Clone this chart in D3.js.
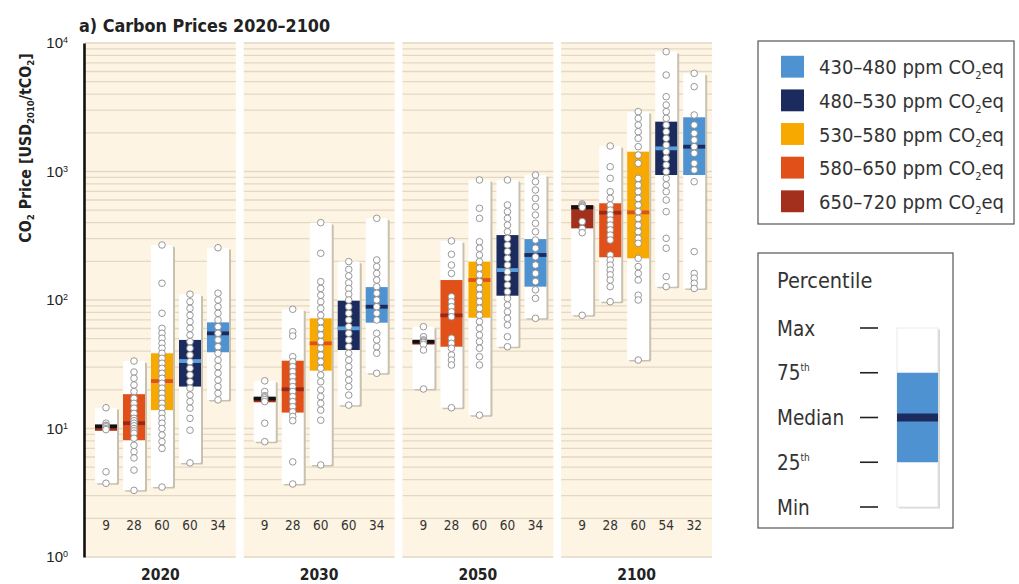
<!DOCTYPE html>
<html><head><meta charset="utf-8">
<script src="https://cdn.jsdelivr.net/npm/d3@7"></script>
<style>
body{margin:0;background:#fff;}
svg{display:block;font-family:"DejaVu Sans Condensed","Liberation Sans Narrow","Open Sans",sans-serif;}
</style></head><body>
<svg id="c" width="1019" height="584"></svg>
<script>
// ---------------- data ----------------
const years = ["2020", "2030", "2050", "2100"];
const categories = ["650–720", "580–650", "530–580", "480–530", "430–480"]; // column order in each panel
const legendOrder = ["430–480", "480–530", "530–580", "580–650", "650–720"];
const boxColors = ["#a3301c", "#e2501a", "#f7a900", "#1c2b5e", "#4e92d2"];
const medianColors = ["#111111", "#9a2a17", "#e2501a", "#5a9fe0", "#1c2b5e"];
const yTicks = [1, 10, 100, 1000, 10000];
const percentileLabels = ["Max", "75th", "Median", "25th", "Min"];

const counts2020 = [9, 28, 60, 60, 34];
const counts2030 = [9, 28, 60, 60, 34];
const counts2050 = [9, 28, 60, 60, 34];
const counts2100 = [9, 28, 60, 54, 32];

// [25th, median, 75th]
const quart2020 = [[9.6, 10.4, 10.6], [8.1, 11.0, 18.5], [13.9, 23.4, 38.5], [21.2, 33.5, 48.9], [39.2, 55, 67]];
const quart2030 = [[16.0, 17.1, 17.5], [13.3, 20.2, 33.7], [28.2, 46, 72], [40.8, 60.2, 98.8], [66.6, 88.7, 126]];
const quart2050 = [[45, 47.4, 48.5], [43.3, 76, 143], [72.8, 143, 199], [108, 171, 320], [127, 224, 298]];
const quart2100 = [[361, 526, 549], [215, 478, 566], [211, 481, 1427], [939, 1514, 2442], [939, 1560, 2642]];

// individual scenario values (circles)
const points2020 = [
  [14.5, 11, 10.6, 10.5, 10.3, 10, 9.8, 4.6, 3.75],
  [33.5, 27.5, 24.6, 21.8, 19.4, 17.2, 15.7, 14.4, 13.1, 12, 11.5, 11, 10.5, 10, 9.6, 9.2, 8.4, 7.4, 6.6, 5.9, 4.75, 3.3],
  [268, 135, 78.8, 60.2, 55.1, 50.4, 46, 42.1, 38.5, 35.2, 32.2, 29.4, 26.9, 24.6, 22.5, 20.6, 18.8, 17.2, 15.7, 14.4, 13.1, 12, 11, 10, 8.9, 7.9, 7, 3.5],
  [111, 97, 86, 76, 67.8, 60.2, 53.4, 47.4, 42.1, 37.3, 33.1, 29.4, 26.1, 23.1, 20.6, 18.2, 16.2, 14.4, 12, 9.7, 5.4],
  [255, 113, 100, 88.7, 78.8, 69.9, 62, 55.1, 48.9, 43.3, 38.5, 34.1, 30.3, 26.9, 23.8, 21.2, 18.8, 16.7]
];
const points2030 = [
  [23.5, 19.4, 18, 17.7, 17.3, 16.8, 16.2, 11, 7.9],
  [84.7, 56.7, 52.5, 36.2, 33.1, 30.3, 27.7, 25.3, 23.1, 21.2, 19.4, 17.7, 16.2, 14.8, 13.5, 12.4, 11.5, 5.5, 3.7],
  [400, 231, 139, 123, 109, 97, 86, 76, 67.8, 60.2, 53.4, 47.4, 42.1, 37.3, 33.1, 29.4, 26.1, 23.1, 20, 17.7, 15.7, 13.9, 11.6, 5.2],
  [199, 173, 154, 136, 123, 111, 100, 88.7, 78.8, 69.9, 62, 55.1, 48.9, 43.3, 38.5, 34.1, 30.3, 26.9, 23.8, 21.2, 18.2, 15.2],
  [432, 205, 182, 161, 143, 127, 113, 100, 88.7, 78.8, 69.9, 55.1, 48.9, 43.3, 38.5, 26.9]
];
const points2050 = [
  [62, 51.8, 49, 48, 47, 46.5, 45, 40.8, 20.3],
  [288, 227, 187, 161, 106, 97, 88.7, 81, 74.1, 50.4, 46, 42.1, 37.3, 34.1, 31.2, 14.5],
  [859, 517, 432, 284, 253, 224, 199, 177, 157, 139, 123, 109, 97, 86, 76, 67.8, 60.2, 53.4, 47.4, 42.1, 36.2, 31.2, 12.7],
  [859, 549, 487, 432, 383, 340, 302, 268, 238, 211, 187, 166, 148, 131, 116, 103, 91.4, 81, 72, 63.9, 51.8, 43.3],
  [939, 833, 718, 618, 532, 459, 395, 340, 293, 253, 217, 187, 161, 139, 120, 103, 72]
];
const points2100 = [
  [559, 550, 540, 530, 526, 407, 360, 334, 76],
  [1579, 1089, 885, 697, 618, 549, 501, 459, 419, 383, 351, 320, 293, 224, 205, 187, 171, 157, 143, 127, 97],
  [2922, 2594, 2300, 2040, 1811, 1560, 1343, 1158, 885, 785, 697, 618, 549, 487, 432, 383, 340, 302, 276, 211, 182, 161, 143, 109, 100, 34.1],
  [8556, 5636, 3821, 3294, 2922, 2594, 2300, 2040, 1811, 1607, 1426, 1267, 1124, 996, 885, 785, 697, 600, 487, 302, 253, 152, 127],
  [5808, 4571, 2754, 2300, 1983, 1759, 1560, 1386, 1158, 1027, 833, 238, 161, 148, 135, 123]
];

const countsByYear = [counts2020, counts2030, counts2050, counts2100];
const quartByYear = [quart2020, quart2030, quart2050, quart2100];
const pointsByYear = [points2020, points2030, points2050, points2100];

// ---------------- drawing ----------------
const svg = d3.select("#c");
const y = d3.scaleLog().domain([1, 1e4]).range([557, 43]);
const x = d3.scaleBand().domain(years).range([85, 712]).paddingInner(0.05);
const bw = x.bandwidth();
const xi = d3.scaleBand().domain(d3.range(categories.length)).range([7, 147]).paddingInner(0.214).paddingOuter(0.107);
const cw = xi.bandwidth();

// title
svg.append("text").attr("x", 79).attr("y", 32).attr("font-weight", "bold").attr("font-size", 17.8)
  .attr("fill", "#222").text("a) Carbon Prices 2020–2100");

// y label
const yl = svg.append("text").attr("transform", "translate(31,148) rotate(-90)")
  .attr("text-anchor", "middle").attr("font-weight", "bold").attr("font-size", 15.8).attr("fill", "#222");
yl.append("tspan").text("CO");
yl.append("tspan").attr("font-size", 9.5).attr("dy", 3).text("2");
yl.append("tspan").attr("dy", -3).text(" Price [USD");
yl.append("tspan").attr("font-size", 9.5).attr("dy", 3).text("2010");
yl.append("tspan").attr("dy", -3).text("/tCO");
yl.append("tspan").attr("font-size", 9.5).attr("dy", 3).text("2");
yl.append("tspan").attr("dy", -3).text("]");

// panels
const panel = svg.selectAll("g.panel").data(years).join("g").attr("class", "panel")
  .attr("transform", d => `translate(${x(d)},0)`);
panel.append("rect").attr("x", 0).attr("y", y(1e4)).attr("width", bw).attr("height", y(1) - y(1e4)).attr("fill", "#fdf4e3");
panel.each(function () {
  d3.select(this).selectAll("line.grid").data(y.ticks()).join("line").attr("class", "grid")
    .attr("x1", 0).attr("x2", bw).attr("y1", d => y(d)).attr("y2", d => y(d))
    .attr("stroke", "#e2d8c4").attr("stroke-width", 1.3);
});

years.forEach((yr, i) => {
  const g = svg.append("g").attr("transform", `translate(${x(yr)},0)`);
  categories.forEach((cat, j) => {
    const pts = pointsByYear[i][j];
    const [q1, med, q3] = quartByYear[i][j];
    const x0 = xi(j);
    const cx = x0 + cw / 2;
    const top = y(d3.max(pts)), bot = y(d3.min(pts));
    g.append("rect").attr("x", x0 + 2).attr("y", top + 1.5).attr("width", cw).attr("height", bot - top)
      .attr("fill", "#c9c1b0").attr("rx", 1.5);
    g.append("rect").attr("x", x0).attr("y", top).attr("width", cw).attr("height", bot - top)
      .attr("fill", "#ffffff").attr("rx", 1.5);
    g.append("rect").attr("x", x0).attr("y", y(q3)).attr("width", cw).attr("height", y(q1) - y(q3))
      .attr("fill", boxColors[j]);
    g.append("rect").attr("x", x0).attr("y", y(med) - 1.9).attr("width", cw).attr("height", 3.8)
      .attr("fill", medianColors[j]);
    g.selectAll(null).data(pts).join("circle").attr("cx", cx).attr("cy", d => y(d)).attr("r", 3.3)
      .attr("fill", "#fff").attr("stroke", "#8d8d8d").attr("stroke-width", 0.9);
    g.append("text").attr("x", cx).attr("y", 530).attr("text-anchor", "middle").attr("font-size", 13.5)
      .attr("fill", "#333").text(countsByYear[i][j]);
  });
  g.append("text").attr("x", bw / 2).attr("y", 580).attr("text-anchor", "middle").attr("font-weight", "bold")
    .attr("font-size", 15.5).attr("fill", "#222").text(yr);
});

// y axis
const ax = svg.append("g").attr("transform", "translate(84,0)")
  .call(d3.axisLeft(y).tickValues(yTicks).tickSize(0).tickSizeOuter(0).tickPadding(16));
ax.select(".domain").attr("stroke", "#111").attr("stroke-width", 2.6);
ax.selectAll(".tick text").attr("font-size", 15).attr("fill", "#222").attr("font-family", null)
  .each(function (d) {
    const t = d3.select(this);
    t.text(null);
    t.append("tspan").text("10");
    t.append("tspan").attr("dy", "-0.55em").attr("font-size", 9).text(Math.round(Math.log10(d)));
  });

// legend 1: categories
const lg = svg.append("g");
lg.append("rect").attr("x", 758).attr("y", 41).attr("width", 256).attr("height", 183)
  .attr("fill", "#fff").attr("stroke", "#555").attr("stroke-width", 1.2);
const ly = d3.scaleBand().domain(legendOrder).range([44, 224]).padding(0.35);
legendOrder.forEach(k => {
  const j = categories.indexOf(k);
  lg.append("rect").attr("x", 781).attr("y", ly(k)).attr("width", 23).attr("height", ly.bandwidth())
    .attr("fill", boxColors[j]);
  const t = lg.append("text").attr("x", 819).attr("y", ly(k) + ly.bandwidth() / 2 + 7.5)
    .attr("font-size", 20).attr("fill", "#333");
  t.append("tspan").text(k + " ppm CO");
  t.append("tspan").attr("font-size", 11).attr("dy", 5).text("2");
  t.append("tspan").attr("dy", -5).text("eq");
});

// legend 2: percentile
const pg = svg.append("g");
pg.append("rect").attr("x", 758).attr("y", 253).attr("width", 195).attr("height", 275)
  .attr("fill", "#fff").attr("stroke", "#555").attr("stroke-width", 1.2);
pg.append("text").attr("x", 777).attr("y", 288).attr("font-size", 21.5).attr("fill", "#333").text("Percentile");
const py = d3.scalePoint().domain(percentileLabels).range([328, 507]);
percentileLabels.forEach(lbl => {
  const t = pg.append("text").attr("x", 777).attr("y", py(lbl) + 7.5).attr("font-size", 20.5).attr("fill", "#333");
  if (lbl.endsWith("th")) {
    t.append("tspan").text(lbl.slice(0, 2));
    t.append("tspan").attr("font-size", 10).attr("dy", -9).text("th");
  } else t.text(lbl);
  pg.append("line").attr("x1", 860).attr("x2", 878).attr("y1", py(lbl)).attr("y2", py(lbl))
    .attr("stroke", "#222").attr("stroke-width", 1.6);
});
pg.append("rect").attr("x", 899).attr("y", py("Max") + 1.5).attr("width", 41).attr("height", py("Min") - py("Max"))
  .attr("fill", "#d8d8d8");
pg.append("rect").attr("x", 897).attr("y", py("Max")).attr("width", 41).attr("height", py("Min") - py("Max"))
  .attr("fill", "#fff").attr("stroke", "#e4e4e4").attr("stroke-width", 0.8);
pg.append("rect").attr("x", 897).attr("y", py("75th")).attr("width", 41).attr("height", py("25th") - py("75th"))
  .attr("fill", "#4e92d2");
pg.append("rect").attr("x", 897).attr("y", py("Median") - 4).attr("width", 41).attr("height", 8)
  .attr("fill", "#1c2b5e");
</script>
</body></html>
